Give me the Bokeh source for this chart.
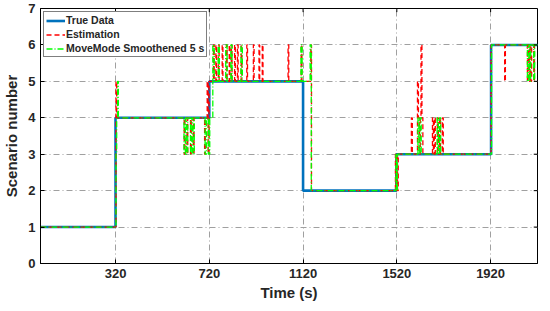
from bokeh.plotting import figure
from bokeh.models import FixedTicker, Legend, LegendItem, Range1d
from bokeh.embed import file_html
from bokeh.resources import INLINE

# ---- data ----
x_ticks = [320, 720, 1120, 1520, 1920]
y_ticks = [0, 1, 2, 3, 4, 5, 6, 7]

true_t = [0, 320, 720, 1120, 1518, 1922, 2120]
true_v = [1, 4, 5, 2, 3, 6, 6]

est_t = [0, 322, 325, 613, 616, 625, 628, 640, 643, 652, 655, 700, 703, 711, 715, 719,
         738, 741, 748, 751, 759, 762, 775, 778, 793, 796, 805, 808, 814, 817, 828, 831,
         840, 843, 856, 859, 880, 883, 908, 911, 932, 935, 946, 949, 1056, 1059, 1112, 1115,
         1153, 1156, 1514, 1517, 1520, 1523, 1526, 1582, 1586, 1608, 1612, 1616, 1620, 1623,
         1627, 1631, 1672, 1676, 1680, 1684, 1693, 1697, 1702, 1706, 1714, 1718, 1922, 1980,
         1983, 2077, 2080, 2085, 2088, 2092, 2095, 2104, 2107, 2120]
est_v = [1, 5, 4, 3, 4, 3, 4, 3, 4, 3, 4, 3, 4, 5, 3, 5,
         6, 5, 6, 5, 6, 5, 6, 5, 6, 5, 6, 5, 6, 5, 6, 5,
         6, 5, 6, 5, 6, 5, 6, 5, 6, 5, 6, 5, 6, 5, 6, 5,
         6, 2, 3, 2, 3, 2, 3, 4, 3, 5, 4, 3, 4, 6,
         4, 3, 4, 3, 4, 3, 4, 3, 4, 3, 4, 3, 6, 5,
         6, 5, 6, 5, 6, 5, 6, 5, 6, 6]

mm_t = [0, 322, 325, 329, 332, 612, 618, 622, 628, 640, 646, 650, 656, 702, 708, 716, 722,
        735, 741, 758, 763, 790, 796, 812, 817, 855, 861, 1111, 1116, 1150, 1155,
        1516, 1519, 1522, 1610, 1614, 1618, 1624, 1692, 1697, 1702, 1707,
        1924, 2077, 2083, 2086, 2091, 2104, 2108, 2120]
mm_v = [1, 3, 4, 5, 4, 3, 4, 3, 4, 3, 4, 3, 4, 3, 4, 3, 4,
        6, 5, 6, 5, 6, 5, 6, 5, 6, 5, 6, 5, 6, 2,
        3, 2, 3, 4, 3, 4, 3, 4, 3, 4, 3,
        6, 5, 6, 5, 6, 5, 6, 6]

FONT = "Liberation Sans"
X0, X1, Y0, Y1 = 0, 2120, 0, 7

p = figure(width=542, height=303, output_backend="svg", toolbar_location=None,
           x_range=Range1d(X0, X1), y_range=Range1d(Y0, Y1),
           min_border_left=2, min_border_right=5, min_border_top=8, min_border_bottom=2,
           background_fill_color="white", border_fill_color="white")
p.outline_line_color = "black"
p.outline_line_width = 1

r_true = p.step(true_t, true_v, mode="after", line_color="#0072BD", line_width=2.6)
r_est = p.step(est_t, est_v, mode="after", line_color="#FF0000", line_width=1.3, line_dash="5 3")
r_mm = p.step(mm_t, mm_v, mode="after", line_color="#00FF00", line_width=1.3, line_dash="6 2 1 2")

for ax, ticks in ((p.xaxis[0], x_ticks), (p.yaxis[0], y_ticks)):
    ax.ticker = FixedTicker(ticks=ticks)
    ax.major_tick_in = 4
    ax.major_tick_out = 0
    ax.minor_tick_line_color = None
    ax.axis_line_color = "black"
    ax.major_tick_line_color = "black"
    ax.major_label_text_font = FONT
    ax.major_label_text_font_style = "bold"
    ax.major_label_text_font_size = "13px"
    ax.major_label_text_color = "#262626"
    ax.axis_label_text_font = FONT
    ax.axis_label_text_font_style = "bold"
    ax.axis_label_text_font_size = "15px"
    ax.axis_label_text_color = "#262626"
    ax.major_label_standoff = 5

p.xaxis.axis_label = "Time (s)"
p.yaxis.axis_label = "Scenario number"
p.xaxis.axis_label_standoff = 3
p.yaxis.axis_label_standoff = 5

# box ticks on top and right edges (MATLAB style)
p.segment(x0=x_ticks, y0=[Y1] * len(x_ticks), x1=x_ticks, y1=[Y1 - 0.1] * len(x_ticks),
          line_color="black", line_width=1)
p.segment(x0=[X1] * len(y_ticks), y0=y_ticks, x1=[X1 - 16] * len(y_ticks), y1=y_ticks,
          line_color="black", line_width=1)

p.grid.grid_line_color = "#a0a0a0"
p.grid.grid_line_dash = "6 3 1 3"
p.grid.grid_line_width = 1
p.xgrid.ticker = FixedTicker(ticks=x_ticks)
p.ygrid.ticker = FixedTicker(ticks=[1, 2, 3, 4, 5, 6])

legend = Legend(items=[LegendItem(label="True Data", renderers=[r_true]),
                       LegendItem(label="Estimation", renderers=[r_est]),
                       LegendItem(label="MoveMode Smoothened 5 s", renderers=[r_mm])],
                location="top_left")
legend.label_text_font = FONT
legend.label_text_font_style = "bold"
legend.label_text_font_size = "10.5px"
legend.label_text_color = "#262626"
legend.label_height = 11
legend.glyph_height = 11
legend.glyph_width = 19
legend.label_standoff = 1
legend.spacing = 2
legend.padding = 2
legend.margin = 3
legend.border_line_color = "black"
legend.border_line_width = 1
legend.background_fill_alpha = 1
p.add_layout(legend)

open("out.html", "w").write(file_html(p, INLINE))
